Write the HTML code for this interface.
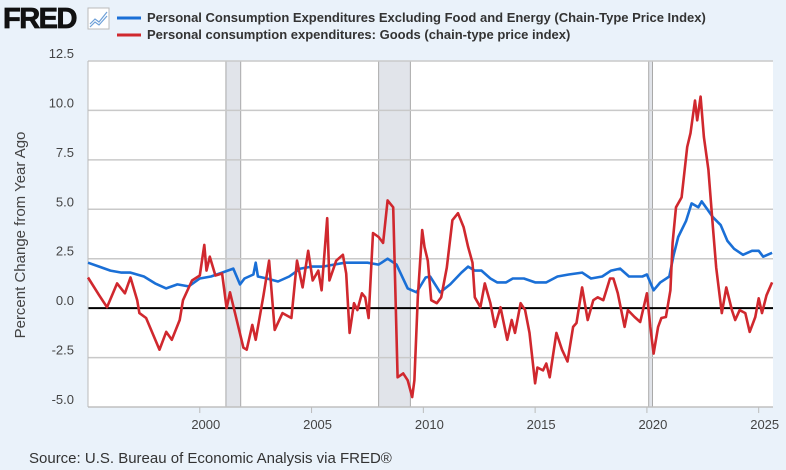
<!DOCTYPE html>
<html><head><meta charset="utf-8"><style>
html,body{margin:0;padding:0;background:#eaf2fa;}
body{width:786px;height:470px;overflow:hidden;font-family:"Liberation Sans",sans-serif;}
</style></head><body>
<svg id="chart" width="786" height="470" xmlns="http://www.w3.org/2000/svg" style="display:block">
<rect x="0" y="0" width="786" height="470" fill="#eaf2fa"/>
<g>
<text x="3" y="28" font-size="29" font-weight="bold" fill="#111" font-family="Liberation Sans, sans-serif" letter-spacing="-1.5" stroke="#111" stroke-width="0.8">FRED</text>
<rect x="88" y="8" width="21" height="21" fill="#fff" stroke="#bbb" stroke-width="1"/>
<polyline points="90,24 95,19 99,22 107,12" fill="none" stroke="#6ea0d8" stroke-width="1.2"/>
<polyline points="90,27 95,22 99,25 107,16" fill="none" stroke="#6ea0d8" stroke-width="1.2"/>
</g>
<g>
<line x1="117" y1="18" x2="141" y2="18" stroke="#1a6fd6" stroke-width="3"/>
<text x="147" y="22" font-size="13" font-weight="bold" fill="#333">Personal Consumption Expenditures Excluding Food and Energy (Chain-Type Price Index)</text>
<line x1="117" y1="35" x2="141" y2="35" stroke="#d0282e" stroke-width="3"/>
<text x="147" y="39" font-size="13" font-weight="bold" fill="#333">Personal consumption expenditures: Goods (chain-type price index)</text>
</g>
<rect x="88" y="61" width="685" height="346" fill="#fff"/>
<g id="rec"></g>
<g id="grid"></g>
<g id="yt"></g>
<g id="xt"></g>
<line x1="88" y1="61" x2="88" y2="407" stroke="#bbb" stroke-width="1"/>
<line x1="88" y1="407" x2="773" y2="407" stroke="#bbb" stroke-width="1"/>
<g id="series"></g>
<text transform="translate(25,235) rotate(-90)" text-anchor="middle" font-size="15" fill="#444">Percent Change from Year Ago</text>
<text x="29" y="463" font-size="15" fill="#333">Source: U.S. Bureau of Economic Analysis via FRED®</text>
</svg>
<script>
const yTicks=[12.5,10.0,7.5,5.0,2.5,0.0,-2.5,-5.0];
const yTickLabels=["12.5","10.0","7.5","5.0","2.5","0.0","-2.5","-5.0"];
const xTicks=[2000,2005,2010,2015,2020,2025];
const recessions=[[2001.17,2001.83],[2008.0,2009.42],[2020.08,2020.25]];
const coreDates=[1995,1995.5,1996,1996.5,1996.9,1997.5,1998,1998.5,1999,1999.5,2000,2000.5,2001,2001.5,2001.8,2002,2002.4,2002.5,2002.6,2003,2003.5,2004,2004.5,2005,2005.5,2006,2006.5,2007,2007.5,2008,2008.4,2008.8,2009.3,2009.7,2010.1,2010.3,2010.75,2011.2,2011.7,2012,2012.3,2012.6,2013,2013.3,2013.7,2014,2014.5,2015,2015.5,2016,2016.5,2017.1,2017.5,2018,2018.4,2018.8,2019.2,2019.8,2020,2020.3,2020.6,2021,2021.2,2021.4,2021.75,2022,2022.3,2022.45,2022.7,2022.95,2023.3,2023.6,2023.9,2024.3,2024.7,2025,2025.2,2025.6];
const coreValues=[2.3,2.1,1.9,1.8,1.8,1.6,1.25,1.0,1.2,1.1,1.5,1.6,1.8,2.0,1.2,1.5,1.7,2.3,1.6,1.5,1.35,1.6,2.0,2.1,2.1,2.2,2.3,2.3,2.3,2.2,2.5,2.2,1.0,0.8,1.55,1.6,0.8,1.2,1.8,2.1,1.9,1.9,1.5,1.3,1.3,1.5,1.5,1.3,1.3,1.6,1.7,1.8,1.5,1.6,1.9,2.0,1.6,1.6,1.7,0.9,1.3,1.6,2.7,3.6,4.4,5.3,5.1,5.4,5.0,4.6,4.2,3.4,3.0,2.7,2.9,2.9,2.6,2.8];
const goodsDates=[1995,1995.5,1995.85,1996.3,1996.65,1996.9,1997.2,1997.3,1997.6,1998.2,1998.5,1998.75,1999.1,1999.25,1999.65,2000,2000.2,2000.3,2000.45,2000.7,2001,2001.2,2001.35,2001.65,2001.95,2002.1,2002.35,2002.5,2002.85,2003.1,2003.35,2003.7,2004.1,2004.35,2004.6,2004.85,2005.05,2005.3,2005.45,2005.7,2005.8,2006.1,2006.4,2006.55,2006.7,2006.9,2007.05,2007.25,2007.4,2007.55,2007.75,2008,2008.2,2008.4,2008.65,2008.85,2009.1,2009.3,2009.5,2009.6,2009.75,2009.95,2010.05,2010.2,2010.35,2010.6,2010.8,2011.05,2011.3,2011.55,2011.8,2012,2012.2,2012.3,2012.55,2012.75,2013,2013.2,2013.45,2013.75,2013.95,2014.1,2014.35,2014.55,2014.75,2015,2015.1,2015.35,2015.5,2015.65,2015.95,2016.2,2016.45,2016.7,2016.85,2017.1,2017.35,2017.6,2017.8,2018.05,2018.35,2018.5,2018.7,2019,2019.15,2019.45,2019.7,2020,2020.15,2020.3,2020.5,2020.65,2020.85,2021.05,2021.15,2021.3,2021.55,2021.8,2021.95,2022.15,2022.25,2022.4,2022.55,2022.75,2022.95,2023.1,2023.35,2023.55,2023.8,2023.95,2024.15,2024.4,2024.6,2024.85,2025,2025.15,2025.35,2025.6];
const goodsValues=[1.55,0.65,0.05,1.25,0.75,1.55,0.4,-0.25,-0.5,-2.1,-1.2,-1.6,-0.6,0.4,1.4,1.65,3.2,1.9,2.6,1.65,1.75,0,0.8,-0.6,-2.0,-2.1,-0.85,-1.6,0.65,2.4,-1.1,-0.25,-0.5,2.4,1.05,2.9,1.4,1.9,0.9,4.55,1.4,2.4,2.7,1.75,-1.25,0.25,-0.1,0.75,0.55,-0.5,3.8,3.6,3.3,5.45,5.1,-3.5,-3.3,-3.65,-4.5,-3.65,0.55,3.95,3.1,2.4,0.4,0.25,0.55,2.05,4.45,4.8,4.1,3.1,2.3,0.55,0.05,1.25,0.25,-0.95,0.05,-1.6,-0.6,-1.25,0.25,-0.1,-1.25,-3.8,-3.0,-3.15,-2.8,-3.5,-1.25,-2.1,-2.7,-0.95,-0.75,1.05,-0.6,0.4,0.55,0.4,1.5,1.5,0.75,-0.95,-0.1,-0.45,-0.7,0.75,-0.95,-2.3,-0.95,-0.5,-0.45,0.9,3.3,5.1,5.6,8.15,8.85,10.5,9.5,10.7,8.65,7.0,4.1,2.05,-0.25,1.05,-0.1,-0.6,-0.1,-0.25,-1.2,-0.45,0.5,-0.25,0.65,1.3];

const NS='http://www.w3.org/2000/svg';
const L=88,R=773,T=61,B=407,X0=1995.0,X1=2025.64,YMIN=-5,YMAX=12.5;
function xs(d){return L+(d-X0)/(X1-X0)*(R-L);}
function ys(v){return B-(v-YMIN)/(YMAX-YMIN)*(B-T);}
function mk(tag,attrs,parent){const e=document.createElementNS(NS,tag);for(const k in attrs)e.setAttribute(k,attrs[k]);parent.appendChild(e);return e;}
const rec=document.getElementById('rec'),grid=document.getElementById('grid'),yt=document.getElementById('yt'),xt=document.getElementById('xt'),series=document.getElementById('series');
recessions.forEach(r=>{
  const x1=xs(r[0]),x2=xs(r[1]);
  const e=mk('rect',{x:x1,y:T,width:Math.max(1.5,x2-x1),height:B-T,fill:'#e1e4ea',stroke:'#a9a9a9','stroke-width':1},rec);
  
  
});
yTicks.forEach((v,i)=>{
  if(v!==0){const g=mk('line',{x1:L,x2:R,y1:ys(v),y2:ys(v),stroke:'#c9c9c9','stroke-width':1.5},grid);
  
  }
  const t=mk('text',{x:74,y:ys(v)-3,'text-anchor':'end','font-size':13,fill:'#444'},yt);
  t.textContent=yTickLabels[i];
  
  
});
xTicks.forEach(d=>{
  const x=xs(d);
  const tk=mk('line',{x1:x,x2:x,y1:B,y2:B+6,stroke:'#bbb','stroke-width':1},xt);
  
  
  const t=mk('text',{x:x+6,y:429,'text-anchor':'middle','font-size':13,fill:'#444'},xt);
  t.textContent=String(d);
  
  
});
const zl=mk('line',{x1:L,x2:R,y1:ys(0),y2:ys(0),stroke:'#000','stroke-width':2},grid);


function line(dates,vals,color,name){
  const pts=dates.map((d,i)=>xs(d).toFixed(1)+','+ys(vals[i]).toFixed(1)).join(' ');
  const p=mk('polyline',{points:pts,fill:'none',stroke:color,'stroke-width':2.6,'stroke-linejoin':'round'},series);
  
  
}
line(coreDates,coreValues,'#1a6fd6','core-pce-line');
line(goodsDates,goodsValues,'#d0282e','goods-pce-line');
</script>
</body></html>
